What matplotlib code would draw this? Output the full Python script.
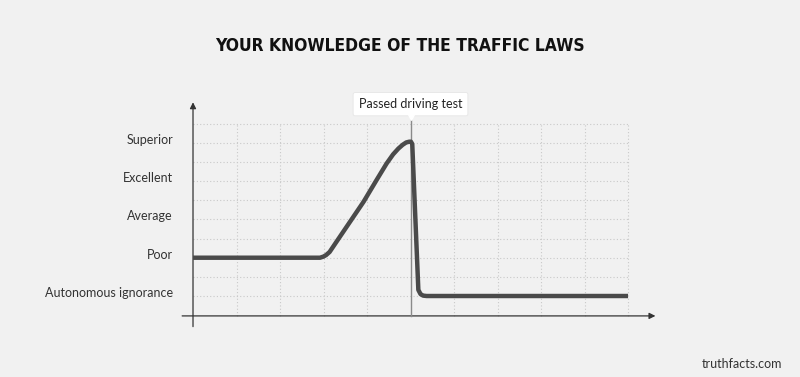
import matplotlib
matplotlib.use("Agg")
import matplotlib.pyplot as plt
import matplotlib.transforms as mtransforms

# ---- data ----
levels = ["Autonomous ignorance", "Poor", "Average", "Excellent", "Superior"]
level_values = [0, 1, 2, 3, 4]
time_x = [0.0, 2.92, 3.0, 3.06, 3.14, 3.30, 3.61, 3.92, 4.22, 4.45, 4.60, 4.72,
          4.82, 4.90, 4.97, 5.01, 5.04, 5.18, 5.23, 5.29, 5.37, 10.0]
knowledge_y = [1.0, 1.0, 1.03, 1.07, 1.15, 1.42, 1.94, 2.46, 3.03, 3.46, 3.70, 3.85,
               3.95, 4.01, 4.03, 4.03, 3.97, 0.16, 0.05, 0.01, 0.0, 0.0]
event_x = 5.0
event_label = "Passed driving test"
title = "YOUR KNOWLEDGE OF THE TRAFFIC LAWS"
credit = "truthfacts.com"

bg = "#f1f1f1"
fig = plt.figure(figsize=(8, 3.77), dpi=100, facecolor=bg)
ax = fig.add_axes([175/800, 1-330/377, 490/800, 235/377])
ax.set_facecolor(bg)
ax.set_xlim(-0.414, 10.85)
ax.set_ylim(-0.888, 5.25)
for s in ax.spines.values():
    s.set_visible(False)

grid_c = "#c9c9c9"
for i in range(10):
    yy = i * 0.5
    ax.plot([0, 10], [yy, yy], color=grid_c, lw=0.8, ls=(0, (1, 2)), zorder=1)
for xx in range(1, 11):
    if xx == event_x:
        continue
    ax.plot([xx, xx], [-0.52, 4.5], color=grid_c, lw=0.8, ls=(0, (1, 2)), zorder=1)

ax.annotate("", xy=(0, 5.06), xytext=(0, -0.80),
            arrowprops=dict(arrowstyle="-|>", color="#333333", lw=0.9,
                            mutation_scale=9, shrinkA=0, shrinkB=0), zorder=2)
ax.annotate("", xy=(10.63, -0.52), xytext=(-0.25, -0.52),
            arrowprops=dict(arrowstyle="-|>", color="#333333", lw=0.9,
                            mutation_scale=9, shrinkA=0, shrinkB=0), zorder=2)

ax.plot([event_x, event_x], [-0.52, 4.73], color="#8a8a8a", lw=1.0, zorder=2)

ax.plot(time_x, knowledge_y, color="#4a4a4a", lw=3.2, solid_joinstyle="round",
        solid_capstyle="butt", zorder=3)

ax.text(event_x, 5.01, event_label, ha="center", va="center", fontsize=9,
        family=["Lato", "DejaVu Sans"], color="#222222", zorder=5,
        bbox=dict(boxstyle="round,pad=0.45,rounding_size=0.15", fc="white",
                  ec="#e6e6e6", lw=0.6))
ax.plot([event_x], [4.69], marker="v", ms=6, color="white", mec="white", zorder=5)

ax.set_xticks([])
ax.set_yticks([])
lab_tr = ax.get_yaxis_transform() + mtransforms.ScaledTranslation(0, 3/100, fig.dpi_scale_trans)
for v, lab in zip(level_values, levels):
    ax.text(-0.004, v, lab, transform=lab_tr, ha="right", va="center", fontsize=9,
            family=["Lato", "DejaVu Sans"], color="#333333")

fig.text(0.5, 1-46/377, title, ha="center", va="center", fontsize=12.5,
         fontweight="bold", fontstretch="condensed",
         family=["DejaVu Sans"], color="#111111")
fig.text(782/800, 1-364/377, credit, ha="right", va="center", fontsize=9,
         family=["Lato", "DejaVu Sans"], color="#333333")

fig.savefig("out.png", dpi=100, facecolor=bg)
